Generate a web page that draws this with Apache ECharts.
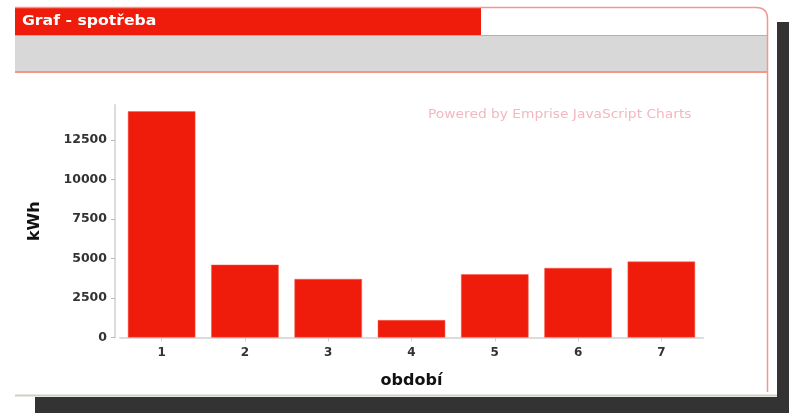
<!DOCTYPE html>
<html>
<head>
<meta charset="utf-8">
<script src="https://cdn.jsdelivr.net/npm/echarts@6/dist/echarts.min.js"></script>
<style>
html,body{margin:0;padding:0;background:#fff;}
#chart{width:789px;height:413px;}
</style>
</head>
<body>
<div id="chart"></div>
<script>
const categories = ['1', '2', '3', '4', '5', '6', '7'];
const consumption = [14300, 4600, 3700, 1100, 4000, 4400, 4800];
const yTicks = [0, 2500, 5000, 7500, 10000, 12500];
const panelTitle = 'Graf - spotřeba';
const yAxisName = 'kWh';
const xAxisName = 'období';
const watermark = 'Powered by Emprise JavaScript Charts';

const chart = echarts.init(document.getElementById('chart'), null, {renderer: 'canvas'});
const FONT = '"DejaVu Sans", Verdana, sans-serif';
const PINK = '#f3968c';

chart.setOption({
  animation: false,
  backgroundColor: '#ffffff',
  grid: {left: 120, right: 86, top: 105, bottom: 75.5, containLabel: false},
  xAxis: {
    type: 'category',
    data: categories,
    axisLine: {lineStyle: {color: '#dcdcdc', width: 2}},
    axisTick: {show: true, alignWithLabel: true, length: 4, lineStyle: {color: '#cfcfcf'}},
    axisLabel: {color: '#333', fontWeight: 'bold', fontSize: 12, fontFamily: FONT, margin: 9},
    name: xAxisName,
    nameLocation: 'middle',
    nameGap: 35,
    nameTextStyle: {color: '#111', fontWeight: 'bold', fontSize: 16, fontFamily: FONT}
  },
  yAxis: {
    type: 'value',
    min: 0,
    max: 14700,
    interval: 2500,
    offset: 5,
    axisLine: {show: true, lineStyle: {color: '#dcdcdc', width: 2}},
    axisTick: {show: true, length: 4, customValues: yTicks, lineStyle: {color: '#bbb'}},
    axisLabel: {color: '#333', fontWeight: 'bold', fontSize: 12.5, fontFamily: FONT, margin: 8,
      customValues: yTicks, formatter: function (v) { return String(v); }},
    splitLine: {show: false},
    name: yAxisName,
    nameLocation: 'middle',
    nameRotate: 90,
    nameGap: 72,
    nameTextStyle: {color: '#111', fontWeight: 'bold', fontSize: 16, fontFamily: FONT}
  },
  series: [{
    type: 'bar',
    data: consumption,
    barWidth: '81%',
    itemStyle: {color: '#f01c0b', borderColor: '#f45a4c', borderWidth: 0.5}
  }],
  graphic: [
    {type: 'rect', shape: {x: 777, y: 22, width: 12, height: 391}, style: {fill: '#333333'}, silent: true, z: -10},
    {type: 'rect', shape: {x: 35, y: 397, width: 754, height: 16}, style: {fill: '#333333'}, silent: true, z: -10},
    {type: 'line', shape: {x1: 15, y1: 395.5, x2: 777, y2: 395.5}, style: {stroke: '#cfcfc6', lineWidth: 2}, silent: true},
    {type: 'rect', shape: {x: 15, y: 8, width: 466, height: 27}, style: {fill: '#f01c0b'}, silent: true},
    {type: 'rect', shape: {x: 15, y: 36, width: 752, height: 35.5}, style: {fill: '#d8d8d8'}, silent: true},
    {type: 'line', shape: {x1: 15, y1: 35.5, x2: 767.5, y2: 35.5}, style: {stroke: PINK, lineWidth: 1.2}, silent: true},
    {type: 'line', shape: {x1: 15, y1: 72, x2: 767.5, y2: 72}, style: {stroke: PINK, lineWidth: 1.8}, silent: true},
    {type: 'line', shape: {x1: 15, y1: 7.5, x2: 756, y2: 7.5}, style: {stroke: PINK, lineWidth: 1.5}, silent: true},
    {type: 'bezierCurve', shape: {x1: 756, y1: 7.5, cpx1: 767.5, cpy1: 7.5, x2: 767.5, y2: 19}, style: {stroke: PINK, fill: null, lineWidth: 1.5}, silent: true},
    {type: 'line', shape: {x1: 767.5, y1: 19, x2: 767.5, y2: 392}, style: {stroke: PINK, lineWidth: 1.5}, silent: true},
    {type: 'text', x: 22, y: 21, scaleX: 1.12, style: {text: panelTitle, fill: '#ffffff', font: 'bold 14px ' + FONT, verticalAlign: 'middle'}, silent: true},
    {type: 'text', x: 428, y: 115, scaleX: 1.15, style: {text: watermark, fill: '#f2b8c0', font: '12px ' + FONT, verticalAlign: 'middle'}, silent: true}
  ]
});
</script>
</body>
</html>
